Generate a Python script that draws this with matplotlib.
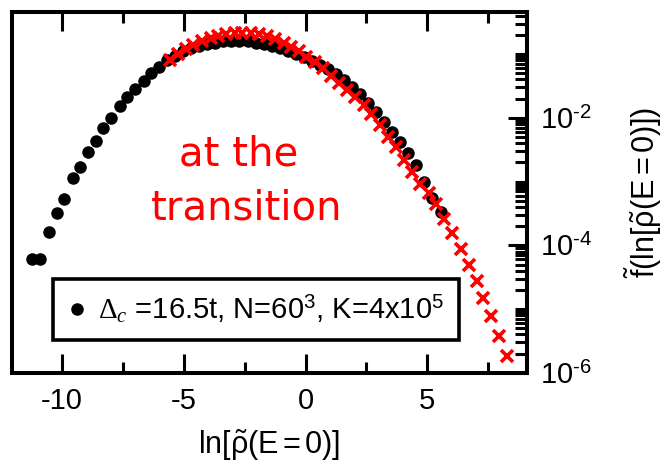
import numpy as np
import matplotlib
matplotlib.use("Agg")
import matplotlib.pyplot as plt
from matplotlib.ticker import FixedLocator, LogLocator, NullFormatter, MultipleLocator, FixedFormatter

plt.rcParams['font.family'] = ['Liberation Sans', 'DejaVu Sans']
plt.rcParams['mathtext.fontset'] = 'custom'
plt.rcParams['mathtext.rm'] = 'Liberation Sans'
plt.rcParams['mathtext.it'] = 'Liberation Serif:italic'
plt.rcParams['mathtext.sf'] = 'Liberation Serif'
plt.rcParams['axes.unicode_minus'] = False

# black circles: Delta_c = 16.5t, N = 60^3, K = 4x10^5
x_black = [-11.23, -10.90, -10.54, -10.20, -9.90, -9.55, -9.24, -8.93, -8.61, -8.30,
           -7.97, -7.63, -7.33, -6.98, -6.64, -6.34, -6.03, -5.68, -5.35, -5.02,
           -4.69, -4.36, -4.03, -3.70, -3.37, -3.04, -2.71, -2.38, -2.05, -1.72,
           -1.39, -1.06, -0.73, -0.40, -0.07, 0.26, 0.59, 0.92, 1.25, 1.58,
           1.91, 2.24, 2.57, 2.90, 3.23, 3.56, 3.89, 4.22, 4.55, 4.88, 5.21, 5.57]
f_black = [6.0e-5, 6.0e-5, 1.6e-4, 3.2e-4, 5.4e-4, 1.15e-3, 1.7e-3, 2.95e-3, 4.3e-3, 6.9e-3,
           1.0e-2, 1.55e-2, 2.14e-2, 2.82e-2, 3.72e-2, 5.0e-2, 6.3e-2, 8.1e-2, 0.095, 0.110,
           0.123, 0.135, 0.145, 0.151, 0.158, 0.162, 0.162, 0.158, 0.151, 0.145,
           0.135, 0.123, 0.112, 0.102, 0.091, 0.079, 0.068, 0.058, 0.048, 0.039,
           0.031, 0.024, 0.0174, 0.0123, 0.0085, 0.0059, 0.0042, 0.0028, 0.0018, 0.0010,
           0.00056, 0.00033]

# red crosses
x_red = [-5.57, -5.25, -4.90, -4.60, -4.25, -3.90, -3.60, -3.25, -2.90, -2.60,
         -2.25, -1.90, -1.60, -1.25, -0.90, -0.60, -0.25, 0.04, 0.38, 0.70,
         1.05, 1.38, 1.70, 2.05, 2.38, 2.70, 3.05, 3.38, 3.70, 4.05,
         4.38, 4.70, 5.05, 5.37, 5.70, 6.02, 6.37, 6.70, 7.02, 7.30,
         7.62, 7.95, 8.28]
f_red = [0.081, 0.100, 0.120, 0.141, 0.162, 0.182, 0.195, 0.204, 0.214, 0.214,
         0.214, 0.204, 0.191, 0.170, 0.148, 0.129, 0.110, 0.091, 0.076, 0.060,
         0.046, 0.035, 0.0275, 0.0209, 0.0158, 0.0115, 0.0076, 0.0050, 0.0035, 0.0022,
         0.0014, 0.00093, 0.00066, 0.00044, 0.00026, 1.58e-4, 8.9e-5, 5.0e-5, 2.8e-5, 1.5e-5,
         7.8e-6, 3.8e-6, 1.86e-6]

x_ticks = [-10, -5, 0, 5]
y_ticks = [1e-6, 1e-4, 1e-2]
y_ticklabels = [r'10$^{\text{-6}}$', r'10$^{\text{-4}}$', r'10$^{\text{-2}}$']

legend_label = r'$\mathsf{\Delta}_{\mathit{c}}$ =16.5t, N=60$^{3}$, K=4x10$^{5}$'

fig = plt.figure(figsize=(6.64, 4.62), dpi=100)
ax = fig.add_axes([0.018, 0.193, 0.776, 0.781])

ax.plot(x_black, f_black, 'o', color='black', ms=8, label=legend_label, zorder=2)
ax.plot(x_red, f_red, 'x', color='red', ms=9, mew=2.6, zorder=3)

ax.set_yscale('log')
ax.set_xlim(-12.05, 9.1)
ax.set_ylim(1e-6, 10 ** -0.34)

ax.xaxis.set_major_locator(FixedLocator(x_ticks))
ax.xaxis.set_minor_locator(MultipleLocator(2.5))
ax.yaxis.set_major_locator(FixedLocator(y_ticks))
ax.yaxis.set_major_formatter(FixedFormatter(y_ticklabels))
ax.yaxis.set_minor_locator(LogLocator(base=10, subs=np.arange(1, 10), numticks=20))
ax.yaxis.set_minor_formatter(NullFormatter())

for s in ax.spines.values():
    s.set_linewidth(2.9)

ax.tick_params(axis='x', which='both', direction='in', top=True, bottom=True,
               width=2.2, labelsize=21, pad=10)
ax.tick_params(axis='x', which='major', length=14)
ax.tick_params(axis='x', which='minor', length=8)
ax.tick_params(axis='y', which='both', direction='in', left=False, right=True,
               labelleft=False, labelright=True, width=2.2, labelsize=21, pad=9)
ax.tick_params(axis='y', which='major', length=14)
ax.tick_params(axis='y', which='minor', length=9)

ax.set_xlabel(r'$\mathrm{ln}[\tilde{\mathrm{\rho}}(\mathrm{E=0})]$', fontsize=22, labelpad=9)
ax.yaxis.set_label_position('right')
ax.set_ylabel(r'$\tilde{\mathrm{f}}(\mathrm{ln}[\tilde{\mathrm{\rho}}(\mathrm{E=0})])$',
              fontsize=22, labelpad=22, rotation=90)

ax.text(0.439, 0.576, 'at the', transform=ax.transAxes, color='red',
        fontsize=29, family='DejaVu Sans', ha='center', va='baseline')
ax.text(0.456, 0.424, 'transition', transform=ax.transAxes, color='red',
        fontsize=29, family='DejaVu Sans', ha='center', va='baseline')

leg = ax.legend(loc='lower left', bbox_to_anchor=(0.08, 0.091), fontsize=21,
                frameon=True, fancybox=False, edgecolor='black', framealpha=1,
                handlelength=0.6, handletextpad=0.45, borderpad=0.5,
                borderaxespad=0, markerscale=1.0)
leg.get_frame().set_linewidth(2.6)

fig.savefig('out.png', dpi=100)
